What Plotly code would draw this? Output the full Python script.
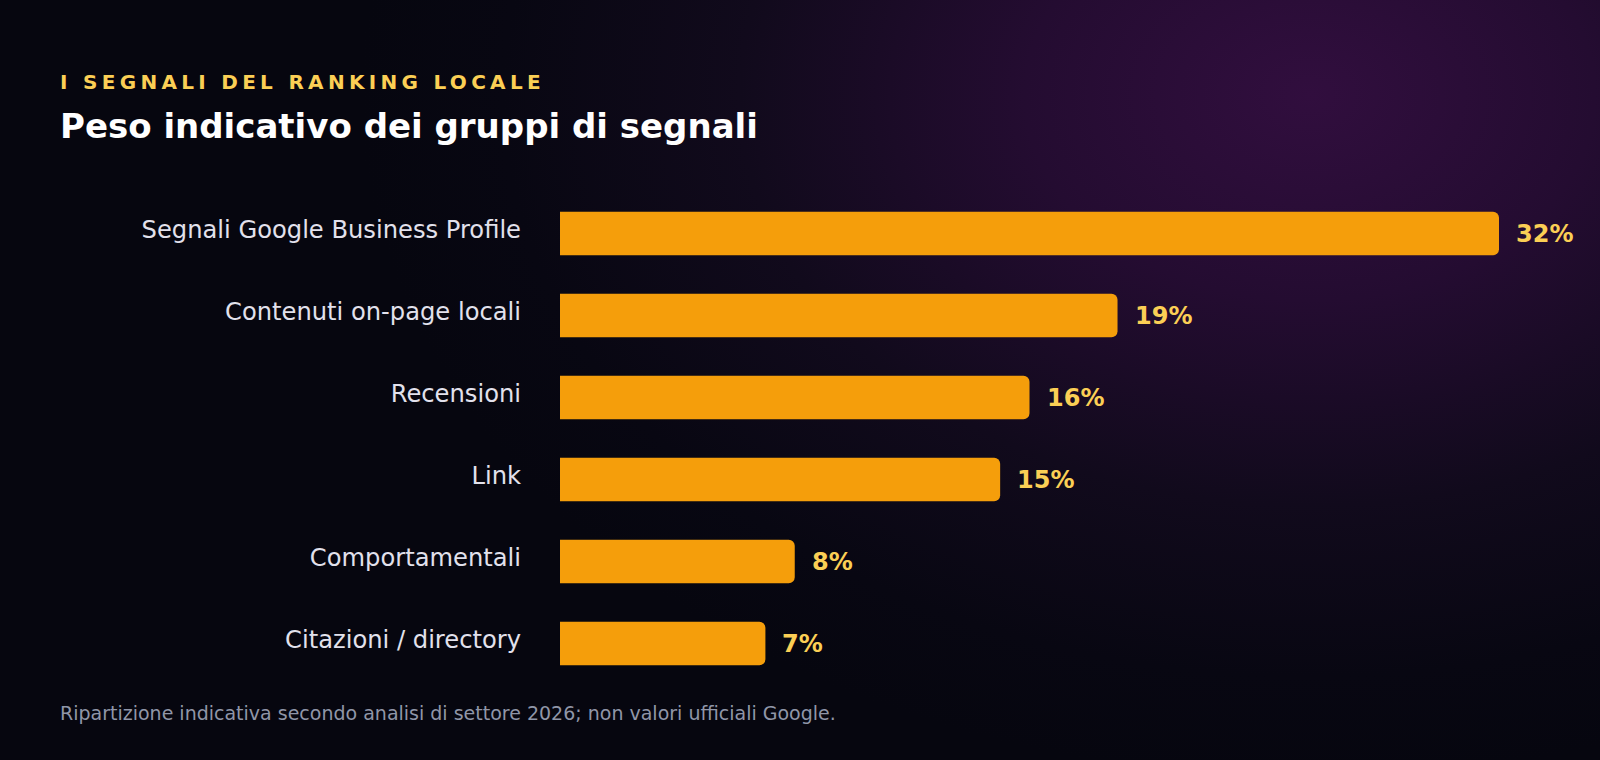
import base64
import plotly.graph_objects as go

# ---- data ----
categories = [
    "Segnali Google Business Profile",
    "Contenuti on-page locali",
    "Recensioni",
    "Link",
    "Comportamentali",
    "Citazioni / directory",
]
values = [32, 19, 16, 15, 8, 7]
value_labels = ["32%", "19%", "16%", "15%", "8%", "7%"]

eyebrow = "I SEGNALI DEL RANKING LOCALE"
title = "Peso indicativo dei gruppi di segnali"
footnote = "Ripartizione indicativa secondo analisi di settore 2026; non valori ufficiali Google."

# ---- style ----
W, H = 1600, 760
FONT = "DejaVu Sans"
BAR = "#f59e0b"
YELLOW = "#fbcf55"
LABEL = "#e2e1ec"
MUTED = "#9096a8"
BG = "#06060f"

svg = f"""<svg xmlns='http://www.w3.org/2000/svg' width='{W}' height='{H}' viewBox='0 0 {W} {H}' preserveAspectRatio='none'>
<defs>
<radialGradient id='g' gradientUnits='userSpaceOnUse' cx='0' cy='0' r='950'
 gradientTransform='translate(1310 95) scale(1 0.72)'>
<stop offset='0' stop-color='#310e3e'/>
<stop offset='0.3' stop-color='#240c31'/>
<stop offset='0.6' stop-color='#110a1c'/>
<stop offset='0.85' stop-color='#080712'/>
<stop offset='1' stop-color='#06060f'/>
</radialGradient>
</defs>
<rect width='{W}' height='{H}' fill='{BG}'/>
<rect width='{W}' height='{H}' fill='url(#g)'/>
</svg>"""
bg_uri = "data:image/svg+xml;base64," + base64.b64encode(svg.encode()).decode()

# plot geometry (pixels)
x0_px, x1_px = 560, 1600
px_per_unit = 939 / 32
y_top_px, y_bot_px = 192.5, 684.5

fig = go.Figure()
fig.add_trace(go.Bar(
    x=values,
    y=categories,
    orientation="h",
    width=0.53,
    marker=dict(color=BAR, cornerradius=6, line=dict(width=0)),
    hoverinfo="skip",
))

annotations = []
for v, c, t in zip(values, categories, value_labels):
    annotations.append(dict(
        x=v, y=c, xref="x", yref="y", text=t, showarrow=False,
        xanchor="left", yanchor="middle", xshift=15,
        font=dict(family=FONT, size=24, color=YELLOW, weight="bold"),
    ))

annotations += [
    dict(x=58 / W, y=1 - 82 / H, xref="paper", yref="paper",
         text=f"<span style='letter-spacing:4.3px'>{eyebrow}</span>",
         showarrow=False, xanchor="left", yanchor="middle",
         font=dict(family=FONT, size=20, color=YELLOW, weight="bold")),
    dict(x=58 / W, y=1 - 126 / H, xref="paper", yref="paper", text=title,
         showarrow=False, xanchor="left", yanchor="middle",
         font=dict(family=FONT, size=34, color="#ffffff", weight="bold")),
    dict(x=58 / W, y=1 - 713 / H, xref="paper", yref="paper", text=footnote,
         showarrow=False, xanchor="left", yanchor="middle",
         font=dict(family=FONT, size=19, color=MUTED)),
]

fig.update_layout(
    width=W, height=H,
    margin=dict(l=0, r=0, t=0, b=0),
    paper_bgcolor=BG,
    plot_bgcolor="rgba(0,0,0,0)",
    showlegend=False,
    hovermode=False,
    annotations=annotations,
    images=[dict(source=bg_uri, xref="paper", yref="paper", x=0, y=1,
                 sizex=1, sizey=1, xanchor="left", yanchor="top",
                 sizing="stretch", layer="below")],
    xaxis=dict(domain=[x0_px / W, x1_px / W],
               range=[0, (x1_px - x0_px) / px_per_unit],
               showgrid=False, zeroline=False, showticklabels=False,
               showline=False, fixedrange=True),
    yaxis=dict(domain=[1 - y_bot_px / H, 1 - y_top_px / H],
               range=[5.5, -0.5], type="category",
               categoryorder="array", categoryarray=categories,
               showgrid=False, zeroline=False, showline=False,
               ticks="", ticklabelstandoff=38, ticklabelshift=4,
               tickfont=dict(family=FONT, size=24.2, color=LABEL),
               fixedrange=True),
    font=dict(family=FONT),
)

fig.write_html("out.html", config={"displayModeBar": False})
